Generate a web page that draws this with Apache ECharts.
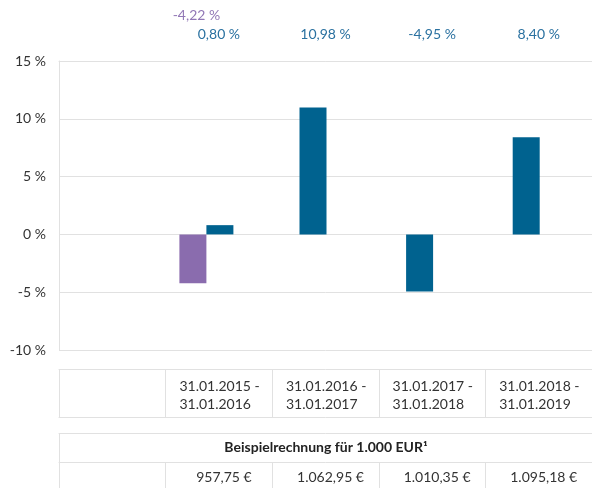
<!DOCTYPE html>
<html>
<head>
<meta charset="utf-8">
<script src="https://cdn.jsdelivr.net/npm/echarts@6/dist/echarts.min.js"></script>
<style>
  html, body { margin: 0; padding: 0; background: #fff; }
  #chart { width: 592px; height: 488px; }
</style>
</head>
<body>
<div id="chart"></div>
<script>
// Zeiträume (erste Spalte bleibt leer)
const periods = ['', '31.01.2015 - 31.01.2016', '31.01.2016 - 31.01.2017', '31.01.2017 - 31.01.2018', '31.01.2018 - 31.01.2019']
// Wertentwicklung in %
const fundValues = [null, 0.80, 10.98, -4.95, 8.40]
const benchValues = [null, -4.22, null, null, null]
// Beispielrechnung für 1.000 EUR
const euroValues = [null, 957.75, 1062.95, 1010.35, 1095.18]
const yTicks = [-10, -5, 0, 5, 10, 15]

const FONT = 'Lato'
const BLUE = '#00628f'
const BLUE_TEXT = '#2a71a0'
const PURPLE = '#8a6cae'
const PURPLE_TEXT = '#9278b6'
const LINE = '#e1e1e1'
const TEXT = '#333'

const fmtPct = v => v.toFixed(2).replace('.', ',') + ' %'
const fmtEur = v => {
  const parts = v.toFixed(2).split('.')
  parts[0] = parts[0].replace(/\B(?=(\d{3})+(?!\d))/g, '.')
  return parts[0] + ',' + parts[1] + ' €'
}

// Balken mit Vergleichswert stehen paarweise, die übrigen mittig
const bluePaired = fundValues.map((v, i) => benchValues[i] != null ? v : null)
const blueSingle = fundValues.map((v, i) => benchValues[i] == null ? v : null)

const chart = echarts.init(document.getElementById('chart'))

// leere Achse als Tabellenlinie
const tableLine = (offset, extra) => Object.assign({
  type: 'category',
  gridIndex: 0,
  data: periods,
  position: 'bottom',
  offset: offset,
  axisLine: { show: true, lineStyle: { color: LINE } },
  axisTick: { show: false },
  axisLabel: { show: false },
  splitLine: { show: false }
}, extra || {})

chart.setOption({
  animation: false,
  textStyle: { fontFamily: FONT },
  grid: [
    { left: 59, right: 0, top: 61, bottom: 138 },
    { left: 46.5, width: 533, top: 61, bottom: 138 }
  ],
  yAxis: [
    {
      type: 'value',
      gridIndex: 0,
      min: yTicks[0],
      max: yTicks[yTicks.length - 1],
      interval: yTicks[1] - yTicks[0],
      axisLine: { show: true, lineStyle: { color: LINE } },
      axisTick: { show: false },
      axisLabel: { formatter: '{value} %', color: TEXT, fontSize: 14, margin: 13, fontFamily: FONT },
      splitLine: { lineStyle: { color: LINE } }
    },
    {
      type: 'value',
      gridIndex: 1,
      min: yTicks[0],
      max: yTicks[yTicks.length - 1],
      show: false
    }
  ],
  xAxis: [
    // obere Prozentwerte
    {
      type: 'category',
      gridIndex: 0,
      data: periods,
      position: 'top',
      axisLine: { show: false },
      axisTick: { show: false },
      axisLabel: {
        interval: 0,
        margin: 17.5,
        formatter: (val, i) => {
          if (fundValues[i] == null) return ''
          let s = ''
          if (benchValues[i] != null) s += '{p|' + fmtPct(benchValues[i]) + '}\n'
          return s + '{b|' + fmtPct(fundValues[i]) + '}'
        },
        rich: {
          b: { color: BLUE_TEXT, fontSize: 14, lineHeight: 19, fontFamily: FONT },
          p: { color: PURPLE_TEXT, fontSize: 14, lineHeight: 19, fontFamily: FONT, padding: [0, 45, 0, 0] }
        }
      }
    },
    // Zeitraum-Zeile
    tableLine(19, {
      axisTick: { show: true, length: 48, lineStyle: { color: LINE } },
      axisLabel: {
        interval: 0,
        margin: 8.5,
        formatter: val => {
          if (!val) return ''
          const p = val.split(' - ')
          return '{d|' + p[0] + ' -}\n{d|' + p[1] + '}'
        },
        rich: {
          d: { width: 79, align: 'left', fontSize: 14, lineHeight: 18, color: TEXT, fontFamily: FONT }
        }
      }
    }),
    tableLine(67),
    tableLine(83),
    // Euro-Zeile
    tableLine(112, {
      axisTick: { show: true, length: 40, lineStyle: { color: LINE } },
      axisLabel: {
        interval: 0,
        margin: 7,
        fontSize: 14,
        lineHeight: 17,
        color: TEXT,
        fontFamily: FONT,
        padding: [0, 0, 0, 10],
        formatter: (val, i) => euroValues[i] == null ? '' : fmtEur(euroValues[i])
      }
    }),
    // Achse x unten am Plot
    {
      type: 'category',
      gridIndex: 0,
      data: periods,
      axisLine: { show: true, lineStyle: { color: LINE } },
      axisTick: { show: false },
      axisLabel: { show: false }
    },
    // Balkenachsen
    { type: 'category', gridIndex: 1, data: periods, show: false },
    { type: 'category', gridIndex: 1, data: periods, show: false }
  ],
  graphic: [
    {
      type: 'line',
      shape: { x1: 59.5, y1: 433, x2: 59.5, y2: 462 },
      style: { stroke: LINE, lineWidth: 1 }
    },
    {
      type: 'text',
      x: 326,
      y: 447.5,
      style: {
        text: 'Beispielrechnung für 1.000 EUR¹',
        align: 'center',
        verticalAlign: 'middle',
        fontSize: 14,
        fontWeight: 'bold',
        fontFamily: FONT,
        fill: '#222'
      }
    }
  ],
  series: [
    {
      name: 'Vergleich',
      type: 'bar',
      xAxisIndex: 6,
      yAxisIndex: 1,
      data: benchValues,
      barWidth: 27,
      barGap: '0%',
      itemStyle: { color: PURPLE }
    },
    {
      name: 'Fonds',
      type: 'bar',
      xAxisIndex: 6,
      yAxisIndex: 1,
      data: bluePaired,
      barWidth: 27,
      barGap: '0%',
      itemStyle: { color: BLUE }
    },
    {
      name: 'Fonds ',
      type: 'bar',
      xAxisIndex: 7,
      yAxisIndex: 1,
      data: blueSingle,
      barWidth: 27,
      itemStyle: { color: BLUE }
    }
  ]
})

window.addEventListener('resize', () => chart.resize())
</script>
</body>
</html>
